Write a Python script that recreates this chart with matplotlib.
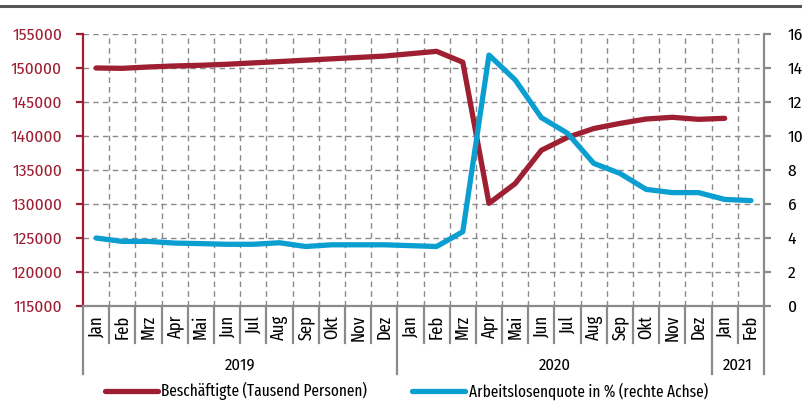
import numpy as np
import matplotlib
matplotlib.use('Agg')
import matplotlib.pyplot as plt
from matplotlib.transforms import blended_transform_factory
from matplotlib.lines import Line2D

plt.rcParams['font.family'] = ['Fira Sans Condensed', 'IBM Plex Sans Condensed', 'DejaVu Sans']
LEG_FONT = ['Fira Sans Extra Condensed', 'Fira Sans Condensed', 'DejaVu Sans']

months = ['Jan', 'Feb', 'Mrz', 'Apr', 'Mai', 'Jun', 'Jul', 'Aug', 'Sep', 'Okt', 'Nov', 'Dez',
          'Jan', 'Feb', 'Mrz', 'Apr', 'Mai', 'Jun', 'Jul', 'Aug', 'Sep', 'Okt', 'Nov', 'Dez',
          'Jan', 'Feb']
years = ['2019', '2020', '2021']
year_counts = [12, 12, 2]

employed = [150000, 149950, 150150, 150300, 150400, 150550, 150750, 150950, 151150, 151350,
            151550, 151750, 152100, 152450, 150850, 130100, 133000, 137900, 139800, 141100,
            141850, 142500, 142750, 142450, 142600, np.nan]
unemp = [4.0, 3.8, 3.8, 3.7, 3.67, 3.63, 3.63, 3.72, 3.5, 3.6, 3.6, 3.6, 3.55, 3.5, 4.37,
         14.76, 13.3, 11.08, 10.16, 8.39, 7.8, 6.86, 6.67, 6.67, 6.27, 6.2]

left_ticks = [115000, 120000, 125000, 130000, 135000, 140000, 145000, 150000, 155000]
right_ticks = [0, 2, 4, 6, 8, 10, 12, 14, 16]

label_emp = 'Beschäftigte (Tausend Personen)'
label_un = 'Arbeitslosenquote in % (rechte Achse)'

RED = '#9E1F32'
BLUE = '#0A9FD0'
GRAY = '#8A8A8A'

W, H = 802, 420
fig = plt.figure(figsize=(W / 100, H / 100), dpi=100)
ax = fig.add_axes([83 / W, 1 - 306 / H, (764 - 83) / W, (306 - 34) / H])
ax2 = ax.twinx()

n = len(months)
x = np.arange(n)
ax.set_xlim(-0.5, n - 0.5)
ax.set_ylim(115000, 155000)
ax2.set_ylim(0, 16)
ax.set_yticks(left_ticks)
ax2.set_yticks(right_ticks)

# grid
ax.set_xticks(np.arange(0.5, n - 0.5, 1), minor=True)
ax.set_xticks([])
ax.grid(True, axis='y', which='major', linestyle=(0, (4, 3)), color=GRAY, linewidth=1)
ax.grid(True, axis='x', which='minor', linestyle=(0, (4, 3)), color=GRAY, linewidth=1)
ax.tick_params(axis='x', which='both', length=0, labelbottom=False)
ax.set_axisbelow(True)

ax.plot(x, employed, color=RED, lw=3.8, solid_capstyle='round', zorder=3)
ax2.plot(x, unemp, color=BLUE, lw=3.8, solid_capstyle='round', zorder=3)

for s in ['top']:
    ax.spines[s].set_visible(False)
    ax2.spines[s].set_visible(False)
ax.spines['left'].set_color(RED)
ax.spines['left'].set_linewidth(1.6)
ax2.spines['left'].set_visible(False)
ax.spines['right'].set_visible(False)
ax2.spines['right'].set_color(GRAY)
ax2.spines['right'].set_linewidth(1.6)
ax.spines['bottom'].set_color(GRAY)
ax.spines['bottom'].set_linewidth(1.6)
ax2.spines['bottom'].set_visible(False)

ax.tick_params(axis='y', colors=RED, labelcolor=RED, labelsize=12.5, length=5, width=1.6, pad=10)
ax2.tick_params(axis='y', colors=GRAY, labelcolor='black', labelsize=12.5, length=5, width=1.6, pad=12)

# category axis labels
tr = blended_transform_factory(ax.transData, ax.transAxes)
px = 1 / 272.0
for i, m in enumerate(months):
    ax.text(i, -9 * px, m, rotation=90, ha='center', va='top', fontsize=13,
            family=LEG_FONT, transform=tr)

bounds = [-0.5]
for c in year_counts:
    bounds.append(bounds[-1] + c)
for b in np.arange(-0.5, n, 1):
    long = any(abs(b - bb) < 1e-9 for bb in bounds)
    y1 = -68 * px if long else -37 * px
    ax.add_line(Line2D([b, b], [0, y1], color=GRAY, lw=1.6, transform=tr, clip_on=False))
for k, yl in enumerate(years):
    cx = (bounds[k] + bounds[k + 1]) / 2
    ax.text(cx, -59 * px, yl, ha='center', va='center', fontsize=12, transform=tr)

# legend
fig.add_artist(Line2D([105 / W, 158 / W], [1 - 391 / H] * 2, color=RED, lw=3.8,
                      solid_capstyle='round', transform=fig.transFigure))
fig.text(161 / W, 1 - 391 / H, label_emp, ha='left', va='center', fontsize=12, family=LEG_FONT)
fig.add_artist(Line2D([412 / W, 465 / W], [1 - 391 / H] * 2, color=BLUE, lw=3.8,
                      solid_capstyle='round', transform=fig.transFigure))
fig.text(469 / W, 1 - 391 / H, label_un, ha='left', va='center', fontsize=12, family=LEG_FONT)

# top rule
fig.add_artist(Line2D([0, 1], [1 - 5.5 / H] * 2, color='#555555', lw=2.2, transform=fig.transFigure))

fig.savefig('out.png', dpi=100)
